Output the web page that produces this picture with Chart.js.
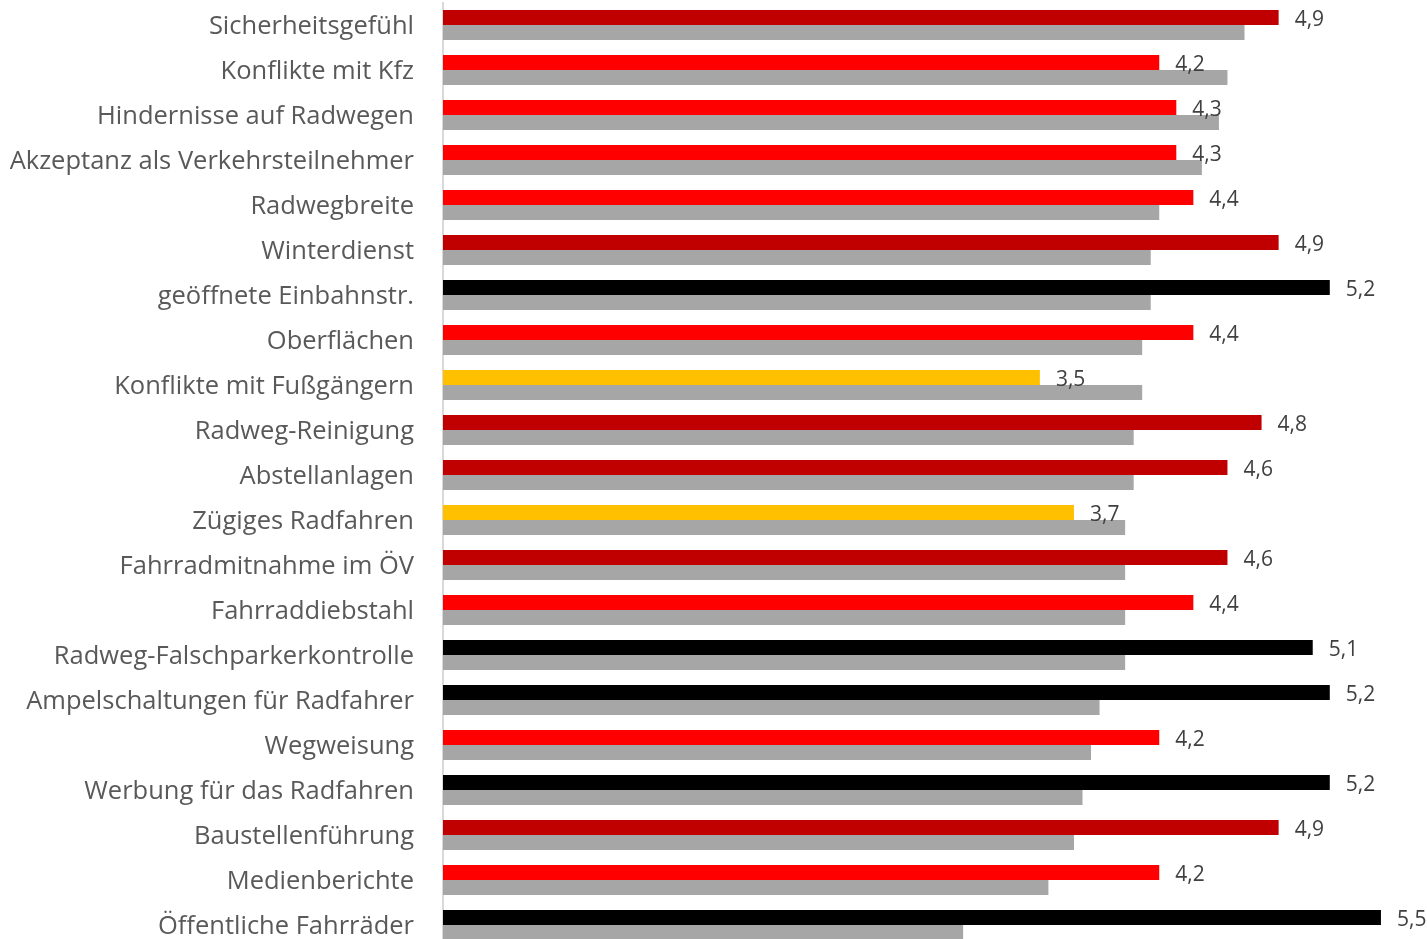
<!DOCTYPE html>
<html>
<head>
<meta charset="utf-8">
<script src="https://cdn.jsdelivr.net/npm/chart.js@4.4.1/dist/chart.umd.min.js"></script>
<style>
  html, body { margin: 0; padding: 0; background: #fff; overflow: hidden; }
</style>
</head>
<body>
<canvas id="myChart" width="1427" height="950"></canvas>
<script>
const categories = [
  "Sicherheitsgefühl",
  "Konflikte mit Kfz",
  "Hindernisse auf Radwegen",
  "Akzeptanz als Verkehrsteilnehmer",
  "Radwegbreite",
  "Winterdienst",
  "geöffnete Einbahnstr.",
  "Oberflächen",
  "Konflikte mit Fußgängern",
  "Radweg-Reinigung",
  "Abstellanlagen",
  "Zügiges Radfahren",
  "Fahrradmitnahme im ÖV",
  "Fahrraddiebstahl",
  "Radweg-Falschparkerkontrolle",
  "Ampelschaltungen für Radfahrer",
  "Wegweisung",
  "Werbung für das Radfahren",
  "Baustellenführung",
  "Medienberichte",
  "Öffentliche Fahrräder",
]

// bewertung (labelled bars)
const ratings = [4.9, 4.2, 4.3, 4.3, 4.4, 4.9, 5.2, 4.4, 3.5, 4.8, 4.6, 3.7, 4.6, 4.4, 5.1, 5.2, 4.2, 5.2, 4.9, 4.2, 5.5]
// grey comparison bars
const comparison = [4.7, 4.6, 4.55, 4.45, 4.2, 4.15, 4.15, 4.1, 4.1, 4.05, 4.05, 4.0, 4.0, 4.0, 4.0, 3.85, 3.8, 3.75, 3.7, 3.55, 3.05]

const colorFor = v => {
  if (v >= 5.0) return "#000000"
  if (v >= 4.6) return "#C00000"
  if (v >= 4.0) return "#FF0000"
  return "#FFC000"
}

const valueLabels = {
  id: "valueLabels",
  afterDatasetsDraw(chart) {
    const ctx = chart.ctx
    const meta = chart.getDatasetMeta(0)
    ctx.save()
    ctx.font = "21px 'Open Sans'"
    ctx.fillStyle = "#404040"
    ctx.textAlign = "left"
    ctx.textBaseline = "middle"
    meta.data.forEach((bar, i) => {
      let txt = ratings[i].toFixed(1).replace(".", ",")
      ctx.fillText(txt, bar.x + 16, bar.y + 3)
    })
    ctx.restore()
  },
}

const config = {
  type: "bar",
  data: {
    labels: categories,
    datasets: [
      {
        data: ratings,
        backgroundColor: ratings.map(colorFor),
        categoryPercentage: 0.667,
        barPercentage: 1.0,
      },
      {
        data: comparison,
        backgroundColor: "#A6A6A6",
        categoryPercentage: 0.667,
        barPercentage: 1.0,
      },
    ],
  },
  options: {
    indexAxis: "y",
    responsive: false,
    animation: false,
    layout: { padding: { top: 2.5, bottom: 2.5, left: 0, right: 29 } },
    plugins: {
      legend: { display: false },
      tooltip: { enabled: false },
    },
    scales: {
      x: {
        display: false,
        min: 0,
        max: 5.6,
      },
      y: {
        afterFit: scale => {
          scale.width = 443
          scale.paddingTop = 0
          scale.paddingBottom = 0
        },
        grid: { display: false, drawTicks: false },
        border: { display: true, color: "#D9D9D9", width: 2 },
        ticks: {
          padding: 29,
          labelOffset: 2,
          color: "#595959",
          font: { family: "'Open Sans'", size: 25.5 },
        },
      },
    },
  },
  plugins: [valueLabels],
}

new Chart(document.getElementById("myChart"), config)
</script>
</body>
</html>
